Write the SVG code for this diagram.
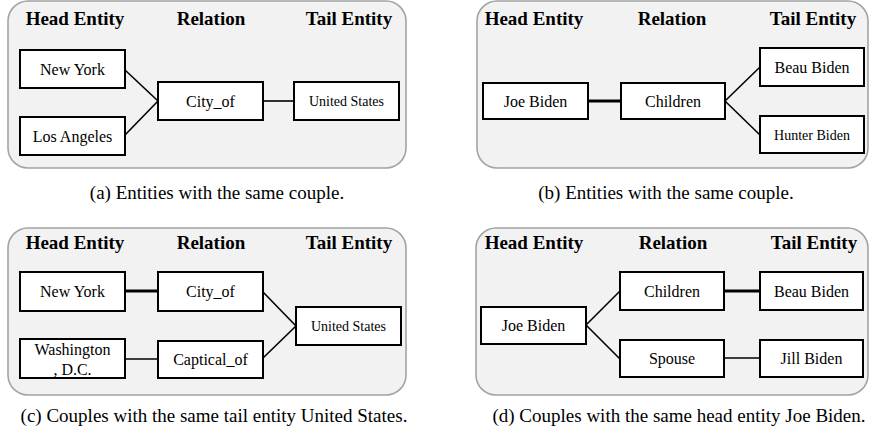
<svg xmlns="http://www.w3.org/2000/svg" width="871" height="436" viewBox="0 0 871 436">
<style>
.bg{fill:#ffffff}
.panel{fill:#f2f2f2;stroke:#a3a3a3;stroke-width:1.6}
.box{fill:#ffffff;stroke:#000000;stroke-width:2}
.hdr{font-family:"Liberation Serif","Times New Roman",serif;font-weight:bold;font-size:19px;fill:#000;text-anchor:middle}
.lbl{font-family:"Liberation Serif","Times New Roman",serif;font-size:16px;fill:#000;text-anchor:middle}
.sm{font-size:14px}
.cap{font-family:"Liberation Serif","Times New Roman",serif;font-size:19px;fill:#000;text-anchor:middle}
.ln{stroke:#000;stroke-width:1.6;fill:none}
.thick{stroke-width:3.2}
</style>
<rect class="bg" x="0" y="0" width="871" height="436"/>

<g id="panel-a">
<rect class="panel" x="8" y="1" width="398" height="167" rx="20"/>
<text class="hdr" x="75" y="25">Head Entity</text>
<text class="hdr" x="211" y="25">Relation</text>
<text class="hdr" x="349" y="25">Tail Entity</text>
</g>
<g id="panel-b">
<rect class="panel" x="477" y="1" width="391" height="167" rx="20"/>
<text class="hdr" x="534" y="25">Head Entity</text>
<text class="hdr" x="672" y="25">Relation</text>
<text class="hdr" x="813" y="25">Tail Entity</text>
</g>
<g id="panel-c">
<rect class="panel" x="8" y="228" width="398" height="167" rx="20"/>
<text class="hdr" x="75" y="249">Head Entity</text>
<text class="hdr" x="211" y="249">Relation</text>
<text class="hdr" x="349" y="249">Tail Entity</text>
</g>
<g id="panel-d">
<rect class="panel" x="476" y="228" width="392" height="167" rx="20"/>
<text class="hdr" x="534" y="249">Head Entity</text>
<text class="hdr" x="673" y="249">Relation</text>
<text class="hdr" x="814" y="249">Tail Entity</text>
</g>

<g id="connectors">
<line class="ln" x1="125" y1="70" x2="158" y2="101"/>
<line class="ln" x1="125" y1="135" x2="158" y2="101"/>
<line class="ln" x1="263" y1="101" x2="294" y2="101"/>

<line class="ln thick" x1="588" y1="101" x2="621" y2="101"/>
<line class="ln" x1="725" y1="101" x2="760" y2="67"/>
<line class="ln" x1="725" y1="101" x2="760" y2="135"/>

<line class="ln thick" x1="125" y1="291" x2="158" y2="291"/>
<line class="ln" x1="125" y1="359" x2="158" y2="359"/>
<line class="ln" x1="263" y1="292" x2="296" y2="326"/>
<line class="ln" x1="263" y1="358" x2="296" y2="326"/>

<line class="ln" x1="586" y1="325" x2="620" y2="291"/>
<line class="ln" x1="586" y1="325" x2="620" y2="359"/>
<line class="ln thick" x1="724" y1="291" x2="760" y2="291"/>
<line class="ln" x1="724" y1="358" x2="760" y2="358"/>
</g>

<g id="a-newyork"><rect class="box" x="20" y="50" width="105" height="38"/><text class="lbl" x="72.5" y="75">New York</text></g>
<g id="a-losangeles"><rect class="box" x="20" y="117" width="105" height="38"/><text class="lbl" x="72.5" y="142">Los Angeles</text></g>
<g id="a-cityof"><rect class="box" x="158" y="82" width="105" height="38"/><text class="lbl" x="210.5" y="107">City_of</text></g>
<g id="a-unitedstates"><rect class="box" x="294" y="82" width="105" height="38"/><text class="lbl sm" x="346.5" y="106">United States</text></g>

<g id="b-joebiden"><rect class="box" x="483" y="83" width="105" height="36"/><text class="lbl" x="535.5" y="107">Joe Biden</text></g>
<g id="b-children"><rect class="box" x="621" y="83" width="104" height="36"/><text class="lbl" x="673" y="107">Children</text></g>
<g id="b-beaubiden"><rect class="box" x="760" y="48" width="104" height="38"/><text class="lbl" x="812" y="73">Beau Biden</text></g>
<g id="b-hunterbiden"><rect class="box" x="760" y="116" width="104" height="37"/><text class="lbl sm" x="812" y="140">Hunter Biden</text></g>

<g id="c-newyork"><rect class="box" x="20" y="272" width="105" height="39"/><text class="lbl" x="72.5" y="297">New York</text></g>
<g id="c-washington"><rect class="box" x="20" y="339" width="105" height="39"/><text class="lbl" x="72.5" y="355">Washington</text><text class="lbl" x="72.5" y="375">, D.C.</text></g>
<g id="c-cityof"><rect class="box" x="158" y="272" width="105" height="39"/><text class="lbl" x="210.5" y="297">City_of</text></g>
<g id="c-captical"><rect class="box" x="158" y="341" width="105" height="37"/><text class="lbl" x="210.5" y="365">Captical_of</text></g>
<g id="c-unitedstates"><rect class="box" x="296" y="307" width="105" height="38"/><text class="lbl sm" x="348.5" y="331">United States</text></g>

<g id="d-joebiden"><rect class="box" x="481" y="307" width="105" height="37"/><text class="lbl" x="533.5" y="331">Joe Biden</text></g>
<g id="d-children"><rect class="box" x="620" y="272" width="104" height="38"/><text class="lbl" x="672" y="297">Children</text></g>
<g id="d-spouse"><rect class="box" x="620" y="340" width="104" height="37"/><text class="lbl" x="672" y="364">Spouse</text></g>
<g id="d-beaubiden"><rect class="box" x="760" y="272" width="103" height="38"/><text class="lbl" x="811.5" y="297">Beau Biden</text></g>
<g id="d-jillbiden"><rect class="box" x="760" y="340" width="103" height="37"/><text class="lbl" x="811.5" y="364">Jill Biden</text></g>

<g id="captions">
<text class="cap" x="217" y="199">(a) Entities with the same couple.</text>
<text class="cap" x="666" y="199">(b) Entities with the same couple.</text>
<text class="cap" x="214" y="422">(c) Couples with the same tail entity United States.</text>
<text class="cap" x="679" y="422">(d) Couples with the same head entity Joe Biden.</text>
</g>
</svg>
